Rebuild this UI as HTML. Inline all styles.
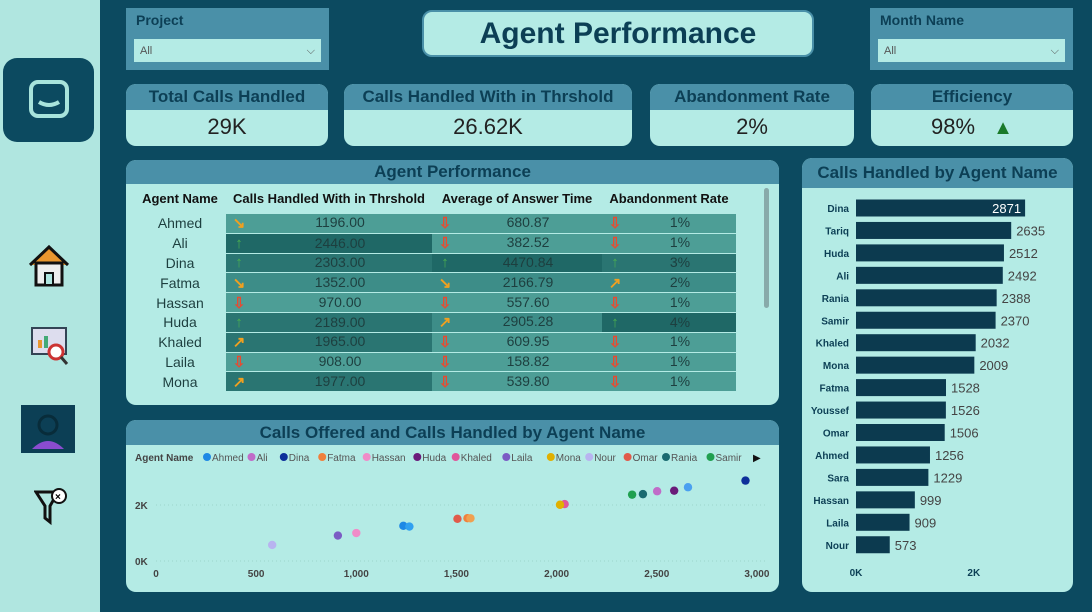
<!DOCTYPE html>
<html><head><meta charset="utf-8">
<style>
*{box-sizing:border-box;margin:0;padding:0}
body{width:1092px;height:612px;background:#0c4a60;font-family:"Liberation Sans",sans-serif;position:relative;overflow:hidden}
.abs{position:absolute}
.side{left:0;top:0;width:100px;height:612px;background:#b0e6e0}
.panel{background:#b4ebe5;border-radius:10px;overflow:hidden}
.hdr{background:#4a90a8;color:#0c3f55;font-weight:bold;text-align:center}
.kpi .hdr{height:26px;font-size:17px;line-height:26px}
.kpi .val{font-size:22px;color:#222;text-align:center;line-height:34px}
.slicer{background:#4a90a8;}
.slicer .lbl{color:#0c3f55;font-weight:bold;font-size:14px;padding:4px 0 0 10px}
.slicer .dd{position:absolute;left:8px;right:8px;bottom:8px;height:23px;background:#b4ebe5;font-size:11px;color:#555;padding:6px 6px}
table{border-collapse:separate;border-spacing:0 1px;font-size:14px}
td{height:18.8px;text-align:center;color:#1d3f3f}
th{font-size:13px;color:#111;height:26px;font-weight:bold;white-space:nowrap;vertical-align:top;padding-top:4px}
.l{background:#4d9e96}.m{background:#3d8d88}.d{background:#2a7572}.dd2{background:#1f6866}
.ar{display:inline-block;width:18px;font-weight:bold;float:left;margin-left:4px;font-size:15px}
.up{color:#4caf50}.dn{color:#e84a30}.ne{color:#f0a020}.se{color:#f0a020}
</style></head><body>
<div class="abs side"></div>
<div class="abs" style="left:3px;top:58px;width:91px;height:84px;background:#0c4a60;border-radius:14px">
<svg width="91" height="84"><rect x="28" y="24" width="36" height="34" rx="7" fill="none" stroke="#a8e4dc" stroke-width="4"/><path d="M36 44 Q46 50 56 44" stroke="#a8e4dc" stroke-width="4" fill="none"/></svg></div>
<svg class="abs" style="left:26px;top:243px" width="46" height="44"><path d="M4 22 L23 4 L42 22" stroke="#111" stroke-width="3" fill="#e8962e"/><rect x="10" y="20" width="26" height="22" fill="#eee" stroke="#111" stroke-width="3"/><rect x="19" y="30" width="8" height="12" fill="#b0e6e0" stroke="#111" stroke-width="2"/></svg>
<svg class="abs" style="left:28px;top:326px" width="42" height="42"><rect x="4" y="2" width="34" height="26" fill="#dde" stroke="#345" stroke-width="2"/><rect x="10" y="14" width="4" height="8" fill="#e8962e"/><rect x="16" y="10" width="4" height="12" fill="#4a7"/><circle cx="28" cy="26" r="7" fill="#fff" stroke="#c33" stroke-width="3"/><line x1="33" y1="31" x2="39" y2="38" stroke="#333" stroke-width="3"/></svg>
<div class="abs" style="left:21px;top:405px;width:54px;height:48px;background:#0c3f55"><svg width="54" height="48"><circle cx="27" cy="20" r="9" fill="#0c3f55" stroke="#082c3a" stroke-width="3"/><path d="M11 44 Q27 28 43 44Z" fill="#8a4ccf"/></svg></div>
<svg class="abs" style="left:34px;top:486px" width="34" height="40"><path d="M2 6 H24 L16 20 V36 L11 32 V20Z" fill="none" stroke="#111" stroke-width="3"/><circle cx="25" cy="10" r="7" fill="#fff" stroke="#111" stroke-width="2"/><text x="21" y="14" font-size="10" font-weight="bold">×</text></svg>

<div class="abs slicer" style="left:126px;top:8px;width:203px;height:62px"><div class="lbl">Project</div><div class="dd">All<span style="float:right">⌵</span></div></div>
<div class="abs slicer" style="left:870px;top:8px;width:203px;height:62px"><div class="lbl">Month Name</div><div class="dd">All<span style="float:right">⌵</span></div></div>
<div class="abs" style="left:422px;top:10px;width:392px;height:47px;background:#b4ebe5;border:2px solid #4a90a8;border-radius:10px;text-align:center;font-size:30px;font-weight:bold;color:#0c3f55;line-height:44px">Agent Performance</div>

<div class="abs panel kpi" style="left:126px;top:84px;width:202px;height:62px"><div class="hdr">Total Calls Handled</div><div class="val">29K</div></div>
<div class="abs panel kpi" style="left:344px;top:84px;width:288px;height:62px"><div class="hdr">Calls Handled With in Thrshold</div><div class="val">26.62K</div></div>
<div class="abs panel kpi" style="left:650px;top:84px;width:204px;height:62px"><div class="hdr">Abandonment Rate</div><div class="val">2%</div></div>
<div class="abs panel kpi" style="left:871px;top:84px;width:202px;height:62px"><div class="hdr">Efficiency</div><div class="val">98% <span style="color:#1a7a2a;font-size:20px;margin-left:12px">▲</span></div></div>

<div class="abs panel" style="left:126px;top:160px;width:653px;height:245px">
<div class="hdr" style="height:24px;font-size:17px;line-height:24px">Agent Performance</div>
<table style="position:absolute;left:8px;top:26px;width:602px">
<tr><th style="width:92px">Agent Name</th><th style="width:206px">Calls Handled With in Thrshold</th><th style="width:170px">Average of Answer Time</th><th>Abandonment Rate</th></tr>
<tr><td>Ahmed</td><td class="l"><span class="ar se">↘</span>1196.00</td><td class="l"><span class="ar dn">⇩</span>680.87</td><td class="l"><span class="ar dn">⇩</span>1%</td></tr>
<tr><td>Ali</td><td class="dd2"><span class="ar up">↑</span>2446.00</td><td class="l"><span class="ar dn">⇩</span>382.52</td><td class="l"><span class="ar dn">⇩</span>1%</td></tr>
<tr><td>Dina</td><td class="d"><span class="ar up">↑</span>2303.00</td><td class="dd2"><span class="ar up">↑</span>4470.84</td><td class="d"><span class="ar up">↑</span>3%</td></tr>
<tr><td>Fatma</td><td class="m"><span class="ar se">↘</span>1352.00</td><td class="m"><span class="ar se">↘</span>2166.79</td><td class="m"><span class="ar ne">↗</span>2%</td></tr>
<tr><td>Hassan</td><td class="l"><span class="ar dn">⇩</span>970.00</td><td class="l"><span class="ar dn">⇩</span>557.60</td><td class="l"><span class="ar dn">⇩</span>1%</td></tr>
<tr><td>Huda</td><td class="d"><span class="ar up">↑</span>2189.00</td><td class="m"><span class="ar ne">↗</span>2905.28</td><td class="dd2"><span class="ar up">↑</span>4%</td></tr>
<tr><td>Khaled</td><td class="d"><span class="ar ne">↗</span>1965.00</td><td class="l"><span class="ar dn">⇩</span>609.95</td><td class="l"><span class="ar dn">⇩</span>1%</td></tr>
<tr><td>Laila</td><td class="l"><span class="ar dn">⇩</span>908.00</td><td class="l"><span class="ar dn">⇩</span>158.82</td><td class="l"><span class="ar dn">⇩</span>1%</td></tr>
<tr><td>Mona</td><td class="d"><span class="ar ne">↗</span>1977.00</td><td class="l"><span class="ar dn">⇩</span>539.80</td><td class="l"><span class="ar dn">⇩</span>1%</td></tr>
</table>
<div class="abs" style="left:638px;top:28px;width:5px;height:120px;background:#8aa;border-radius:3px"></div>
</div>

<div class="abs panel" style="left:126px;top:420px;width:653px;height:172px">
<div class="hdr" style="height:25px;font-size:17px;line-height:25px">Calls Offered and Calls Handled by Agent Name</div>
</div>
<svg class="abs" id="scatter" style="left:126px;top:445px" width="653" height="147"></svg>

<div class="abs panel" style="left:802px;top:158px;width:271px;height:434px">
<div class="hdr" style="height:30px;font-size:17px;line-height:30px">Calls Handled by Agent Name</div>
</div>
<svg class="abs" id="bars" style="left:802px;top:188px" width="271" height="404"></svg>

<script>
const barNames=["Dina","Tariq","Huda","Ali","Rania","Samir","Khaled","Mona","Fatma","Youssef","Omar","Ahmed","Sara","Hassan","Laila","Nour"];
const barValues=[2871,2635,2512,2492,2388,2370,2032,2009,1528,1526,1506,1256,1229,999,909,573];
const barTicks=[0,2000];
const barTickLabels=["0K","2K"];

const scNames=["Ahmed","Ali","Dina","Fatma","Hassan","Huda","Khaled","Laila","Mona","Nour","Omar","Rania","Samir","Tariq","Youssef","Sara"];
const scColors=["#1e88e5","#c06cc8","#0d2f9a","#f0803c","#f08cc8","#6a1b7a","#e0569a","#7b5cc4","#e0b000","#b8b4f0","#e05a4a","#1a6a70","#20a050","#4aa0f0","#f0a050","#30a0f0"];
const scOffered=[1235,2502,2943,1555,1000,2587,2040,908,2017,580,1505,2431,2377,2656,1570,1265];
const scHandled=[1256,2492,2871,1528,999,2512,2032,909,2009,573,1506,2388,2370,2635,1526,1229];
const scXTicks=[0,500,1000,1500,2000,2500,3000];
const scXLabels=["0","500","1,000","1,500","2,000","2,500","3,000"];
const scYTicks=[0,2000];
const scYLabels=["0K","2K"];
const legendNames=["Ahmed","Ali","Dina","Fatma","Hassan","Huda","Khaled","Laila","Mona","Nour","Omar","Rania","Samir"];

const NS="http://www.w3.org/2000/svg";
function mk(svg,tag,attrs,text){const e=document.createElementNS(NS,tag);for(const k in attrs)e.setAttribute(k,attrs[k]);if(text!==undefined)e.textContent=text;svg.appendChild(e);return e;}

const bs=document.getElementById('bars');
const bx=v=>54+v*0.0589;
const by=i=>20+i*22.45;
barNames.forEach((n,i)=>{
  const lab=mk(bs,'text',{x:47,y:by(i)+4,'text-anchor':'end','font-size':10,'font-weight':'bold',fill:'#0c3f55'},n);
  
  
  const r=mk(bs,'rect',{x:bx(0),y:by(i)-8.5,width:bx(barValues[i])-bx(0),height:17,fill:'#0c3a4f'});
  
  
  const inside=i===0;
  const t=mk(bs,'text',{x:inside?bx(barValues[i])-4:bx(barValues[i])+5,y:by(i)+5,'text-anchor':inside?'end':'start','font-size':13,fill:inside?'#fff':'#444'},barValues[i]);
  
  
});
barTicks.forEach((v,i)=>{
  const t=mk(bs,'text',{x:bx(v),y:388,'text-anchor':'middle','font-size':10,'font-weight':'bold',fill:'#0c3f55'},barTickLabels[i]);
  
  
});

const ss=document.getElementById('scatter');
const sx=v=>30+v*0.2003;
const sy=v=>116-v*0.028;
const lt=mk(ss,'text',{x:9,y:16,'font-size':10,'font-weight':'bold',fill:'#444'},'Agent Name');


let lx=77;
legendNames.forEach(n=>{
  const ci=scNames.indexOf(n);
  const g=mk(ss,'g',{});
  
  
  mk(g,'circle',{cx:lx+4,cy:12,r:4,fill:scColors[ci]});
  mk(g,'text',{x:lx+9,y:16,'font-size':10,fill:'#555'},n);
  lx+=14+n.length*6.1;
});
const nx=mk(ss,'text',{x:627,y:16,'font-size':10,fill:'#111'},'▶');


scYTicks.forEach((v,i)=>{
  mk(ss,'line',{x1:30,x2:640,y1:sy(v),y2:sy(v),stroke:'#9cd4cc','stroke-dasharray':'1,3'});
  const t=mk(ss,'text',{x:9,y:sy(v)+4,'font-size':10,'font-weight':'bold',fill:'#444'},scYLabels[i]);
  
  
});
scXTicks.forEach((v,i)=>{
  const t=mk(ss,'text',{x:sx(v),y:132,'text-anchor':'middle','font-size':10,'font-weight':'bold',fill:'#444'},scXLabels[i]);
  
  
});
scNames.forEach((n,i)=>{
  const c=mk(ss,'circle',{cx:sx(scOffered[i]),cy:sy(scHandled[i]),r:4.2,fill:scColors[i]});
  
  
});
</script>
</body></html>
